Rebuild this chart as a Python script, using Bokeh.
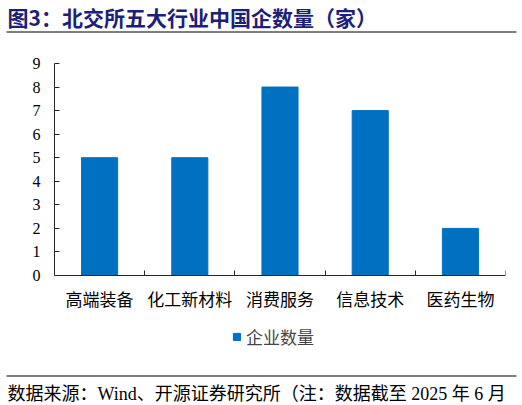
from bokeh.embed import file_html
from bokeh.layouts import column
from bokeh.models import (BoxAnnotation, FixedTicker, Label, Legend,
                          LegendItem, Range1d)
from bokeh.plotting import figure
from bokeh.resources import INLINE

TITLE = "图3：北交所五大行业中国企数量（家）"
SOURCE = "数据来源：Wind、开源证券研究所（注：数据截至 2025 年 6 月"
SERIES = "企业数量"

industries = ["高端装备", "化工新材料", "消费服务", "信息技术", "医药生物"]
counts = [5, 5, 8, 7, 2]
y_ticks = list(range(0, 10))

BLUE = "#0070C0"
NAVY = "#1C2078"
AXIS = "#262626"
SERIF = "Liberation Serif, Noto Sans CJK SC"
CJK = "Noto Sans CJK SC"
W = 522

# main panel geometry (px inside the main figure)
MAIN_H = 334
TOP = 27          # frame top
ZERO_Y = 239      # where the value axis reaches 0
Y_MAX = 9


def blank(height):
    """A figure whose frame is the whole canvas, for the header and footer."""
    f = figure(width=W, height=height, x_axis_type=None, y_axis_type=None,
               output_backend="svg", toolbar_location=None,
               min_border=0, frame_align=False)
    f.outline_line_color = None
    f.grid.visible = False
    return f


def rule(f, y):
    f.add_layout(BoxAnnotation(
        left=6, right=516, bottom=y - 1, top=y,
        left_units="screen", right_units="screen",
        bottom_units="screen", top_units="screen",
        fill_color="#000000", fill_alpha=1, line_color=None,
    ))


# header
head = blank(36)
head.add_layout(Label(
    x=7, y=20, x_units="screen", y_units="screen", text=TITLE,
    text_font=CJK, text_font_style="bold", text_font_size="21px",
    text_color=NAVY, text_baseline="middle",
))
rule(head, 5)

# main chart: the frame runs down to the figure bottom so the category
# labels and legend sit inside it; the category axis is pinned at 0
centers = [i + 0.5 for i in range(len(industries))]
bounds = list(range(len(industries) + 1))
px_per_unit = (ZERO_Y - TOP) / Y_MAX
y_start = -(MAIN_H - ZERO_Y) / px_per_unit

p = figure(
    width=W, height=MAIN_H,
    x_range=Range1d(0, len(industries)), y_range=Range1d(y_start, Y_MAX),
    output_backend="svg", toolbar_location=None, frame_align=False,
    min_border_left=54, min_border_right=17,
    min_border_top=TOP, min_border_bottom=0,
)
p.outline_line_color = None
p.grid.visible = False

bars = p.vbar(x=centers, top=counts, width=0.4, color=BLUE)

p.yaxis.bounds = (0, Y_MAX)
p.yaxis.ticker = FixedTicker(ticks=y_ticks)
p.yaxis.major_tick_in = 5
p.yaxis.major_tick_out = 0
p.yaxis.minor_tick_line_color = None
p.yaxis.axis_line_color = AXIS
p.yaxis.major_tick_line_color = AXIS
p.yaxis.major_label_text_font = SERIF
p.yaxis.major_label_text_font_size = "16px"
p.yaxis.major_label_text_color = "#000000"
p.yaxis.major_label_standoff = 14

# labels at category centres, tick marks at category boundaries
p.xaxis.fixed_location = 0
p.xaxis.ticker = FixedTicker(ticks=centers, minor_ticks=bounds)
p.xaxis.major_label_overrides = {c: name for c, name in zip(centers, industries)}
p.xaxis.major_tick_line_color = None
p.xaxis.minor_tick_in = 5
p.xaxis.minor_tick_out = 0
p.xaxis.minor_tick_line_color = AXIS
p.xaxis.axis_line_color = AXIS
p.xaxis.major_label_text_font = CJK
p.xaxis.major_label_text_font_size = "17px"
p.xaxis.major_label_text_color = "#000000"
p.xaxis.major_label_standoff = 4

legend = Legend(
    items=[LegendItem(label=SERIES, renderers=[bars])],
    location=(178, 21), orientation="horizontal",
    glyph_width=9, glyph_height=9, label_height=20,
    label_standoff=5, padding=0, margin=0, spacing=0,
    border_line_color=None, background_fill_alpha=0,
    label_text_font=CJK, label_text_font_size="17px",
)
p.add_layout(legend, "center")

# footer
foot = blank(35)
rule(foot, 30)
foot.add_layout(Label(
    x=7, y=12, x_units="screen", y_units="screen", text=SOURCE,
    text_font=SERIF, text_font_size="18px",
    text_color="#000000", text_baseline="middle",
))

page = column(head, p, foot, spacing=0)
open("out.html", "w").write(file_html(page, INLINE))
